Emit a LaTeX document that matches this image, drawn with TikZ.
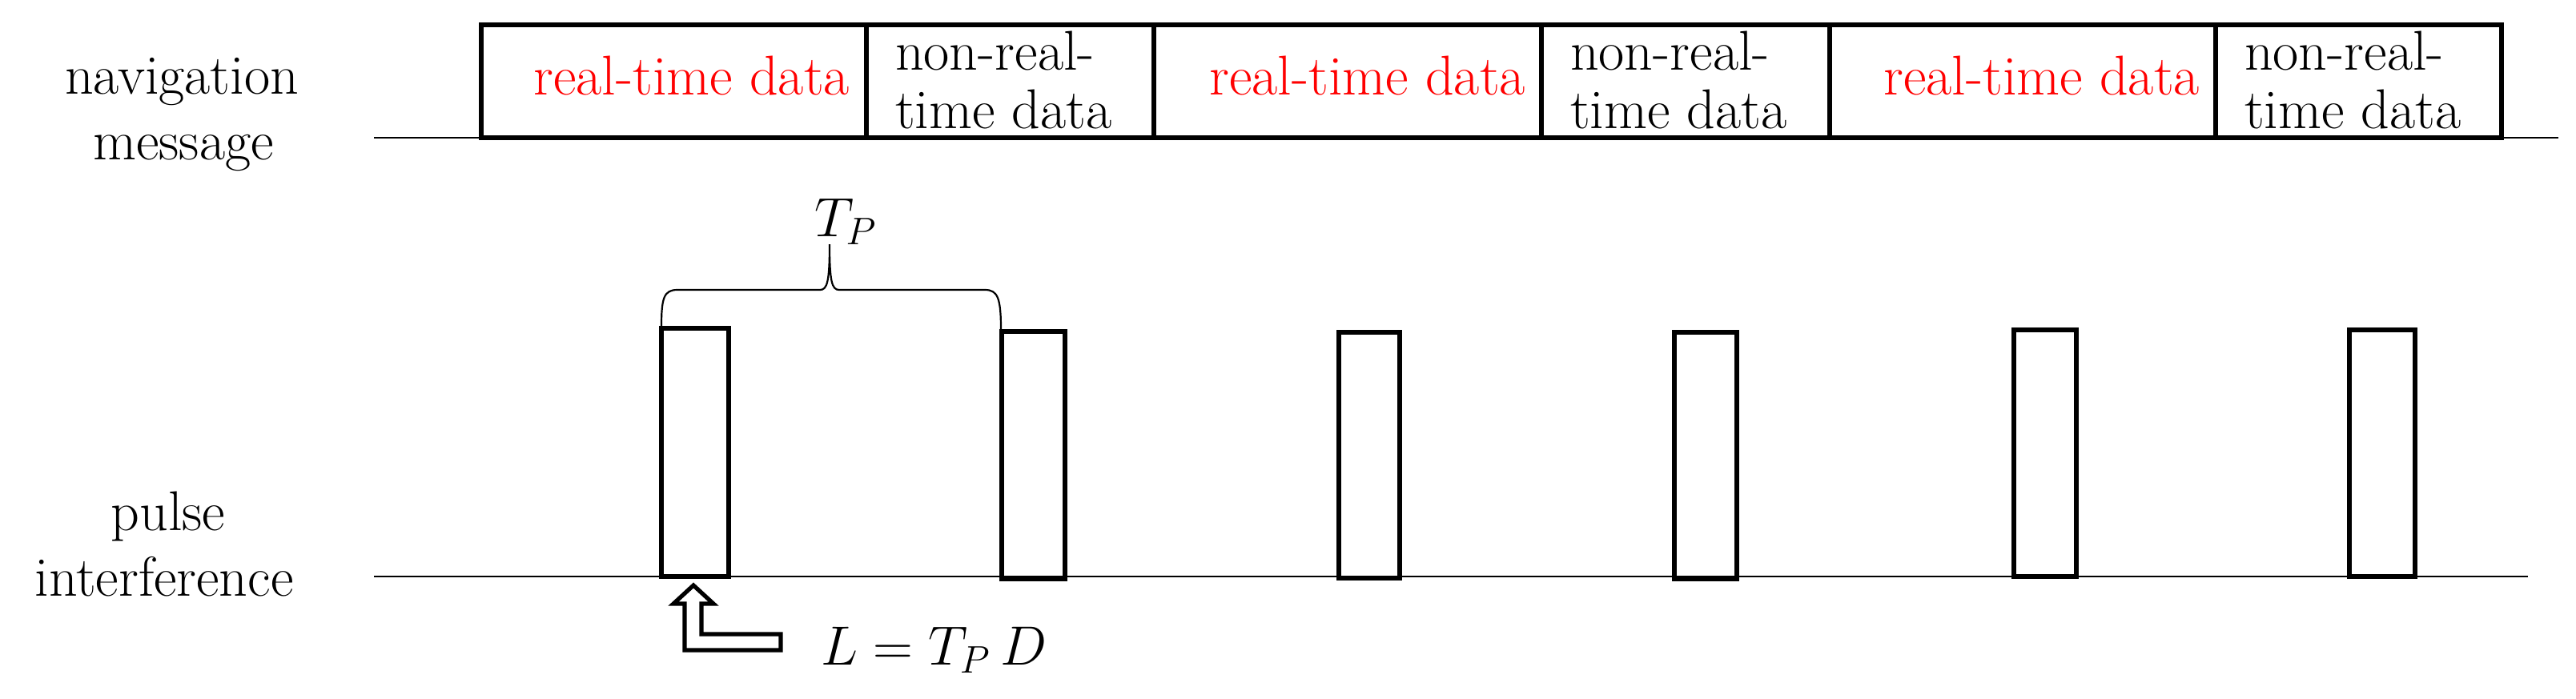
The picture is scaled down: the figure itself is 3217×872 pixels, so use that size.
\documentclass[tikz,border=0pt]{standalone}
\begin{document}
\begin{tikzpicture}[x=0.25pt,y=-0.25pt,
  msgbox/.style={line width=1.4pt, line join=miter},
  pulsebox/.style={line width=1.3pt, line join=miter},
  axisline/.style={line width=0.6pt},
  bracepath/.style={line width=0.55pt},
  hollowarrow/.style={line width=1.3pt, line join=miter},
  lbl/.style={font=\fontsize{17.5}{20}\selectfont, inner sep=0pt, outer sep=0pt},
  rtlbl/.style={lbl, text=red, anchor=base east},
  nrtlbl/.style={lbl, anchor=base west},
  sidelbl/.style={lbl, anchor=base},
  mathlbl/.style={font=\fontsize{17}{20}\selectfont, inner sep=0pt, outer sep=0pt, anchor=base west}
]
\useasboundingbox (0,0) rectangle (3217,872);

% ---- navigation message row ----
\coordinate (navstart) at (467,172);
\coordinate (navend) at (3195,172);
\draw[axisline] (navstart) -- (601,172);
\draw[axisline] (3124,172) -- (navend);

\draw[msgbox] (601,31) rectangle (1082,172);
\draw[msgbox] (1082,31) rectangle (1441,172);
\draw[msgbox] (1441,31) rectangle (1925,172);
\draw[msgbox] (1925,31) rectangle (2285,172);
\draw[msgbox] (2285,31) rectangle (2767,172);
\draw[msgbox] (2767,31) rectangle (3124,172);

\node[rtlbl] (rt1) at (1061,118) {real-time data};
\node[rtlbl] (rt2) at (1905,118) {real-time data};
\node[rtlbl] (rt3) at (2747,118) {real-time data};

\node[nrtlbl] (nrt1a) at (1118,87) {non-real-};
\node[nrtlbl] (nrt1b) at (1118,160) {time data};
\node[nrtlbl] (nrt2a) at (1961,87) {non-real-};
\node[nrtlbl] (nrt2b) at (1961,160) {time data};
\node[nrtlbl] (nrt3a) at (2803,87) {non-real-};
\node[nrtlbl] (nrt3b) at (2803,160) {time data};

\node[sidelbl] (navA) at (227,117) {navigation};
\node[sidelbl] (navB) at (229,199) {message};

% ---- pulse interference row ----
\coordinate (pstart) at (467,720);
\coordinate (pend) at (3157,720);
\draw[axisline] (pstart) -- (pend);

\draw[pulsebox] (826,720) rectangle (910,410);
\draw[pulsebox] (1251,723) rectangle (1330,414);
\draw[pulsebox] (1672,722) rectangle (1748,415);
\draw[pulsebox] (2091,723) rectangle (2169,415);
\draw[pulsebox] (2515,720) rectangle (2593,412);
\draw[pulsebox] (2934,720) rectangle (3016,412);

\node[sidelbl] (pulA) at (210,662) {pulse};
\node[sidelbl] (pulB) at (205,744) {interference};

% ---- brace T_P ----
\draw[bracepath] (826,408) .. controls (826,372) and (829,362) .. (846,362)
  -- (1024,362) .. controls (1033,362) and (1036,352) .. (1036,305)
  .. controls (1036,352) and (1039,362) .. (1048,362)
  -- (1230,362) .. controls (1246,362) and (1250,372) .. (1250,412);
\node[mathlbl] (tp) at (1017,295) {$T_P$};

% ---- hollow arrow and L = T_P D ----
\draw[hollowarrow] (866,731) -- (891,754) -- (876,754) -- (876,792) -- (975,792)
  -- (975,812) -- (855,812) -- (855,754) -- (841,754) -- cycle;
\node[mathlbl] (leq) at (1025,830) {$L = T_P\,D$};
\end{tikzpicture}
\end{document}
